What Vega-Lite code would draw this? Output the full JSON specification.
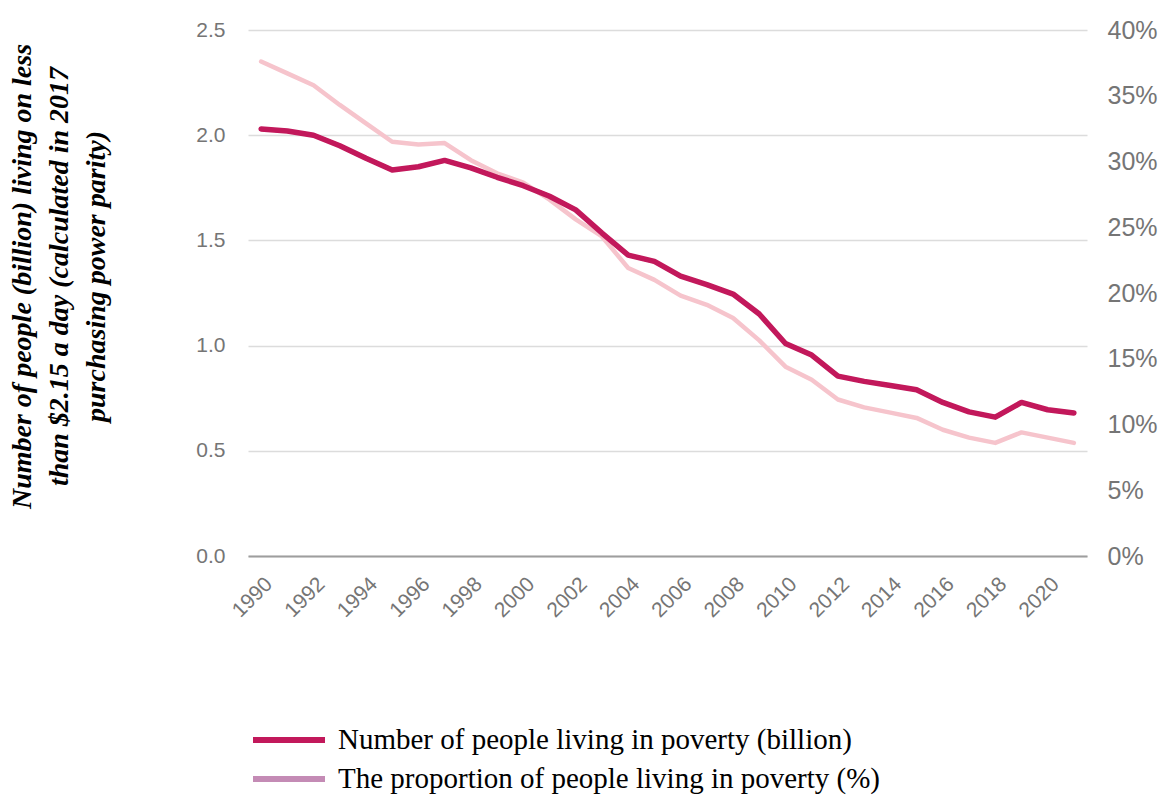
{
  "$schema": "https://vega.github.io/schema/vega-lite/v6.json",
  "width": 839,
  "height": 526,
  "autosize": "none",
  "padding": {"left": 248, "top": 30, "right": 76, "bottom": 240},
  "background": "white",
  "config": {
    "view": {"stroke": null},
    "axis": {
      "labelFont": "Liberation Sans",
      "labelColor": "#757575",
      "ticks": false,
      "domain": false,
      "grid": false
    }
  },
  "data": {
    "values": [
      {"year": 1990, "number": 2.03, "proportion": 0.376},
      {"year": 1991, "number": 2.02, "proportion": 0.367},
      {"year": 1992, "number": 2.0, "proportion": 0.358},
      {"year": 1993, "number": 1.95, "proportion": 0.343},
      {"year": 1994, "number": 1.89, "proportion": 0.329},
      {"year": 1995, "number": 1.835, "proportion": 0.315},
      {"year": 1996, "number": 1.85, "proportion": 0.313},
      {"year": 1997, "number": 1.88, "proportion": 0.314},
      {"year": 1998, "number": 1.845, "proportion": 0.301},
      {"year": 1999, "number": 1.8, "proportion": 0.291},
      {"year": 2000, "number": 1.76, "proportion": 0.284},
      {"year": 2001, "number": 1.71, "proportion": 0.271},
      {"year": 2002, "number": 1.645, "proportion": 0.256},
      {"year": 2003, "number": 1.535, "proportion": 0.243},
      {"year": 2004, "number": 1.43, "proportion": 0.219},
      {"year": 2005, "number": 1.4, "proportion": 0.21},
      {"year": 2006, "number": 1.33, "proportion": 0.198},
      {"year": 2007, "number": 1.29, "proportion": 0.191},
      {"year": 2008, "number": 1.245, "proportion": 0.181},
      {"year": 2009, "number": 1.15, "proportion": 0.164},
      {"year": 2010, "number": 1.01, "proportion": 0.144},
      {"year": 2011, "number": 0.955, "proportion": 0.134},
      {"year": 2012, "number": 0.855, "proportion": 0.119},
      {"year": 2013, "number": 0.83, "proportion": 0.113},
      {"year": 2014, "number": 0.81, "proportion": 0.109},
      {"year": 2015, "number": 0.79, "proportion": 0.105},
      {"year": 2016, "number": 0.73, "proportion": 0.096},
      {"year": 2017, "number": 0.685, "proportion": 0.09},
      {"year": 2018, "number": 0.66, "proportion": 0.086},
      {"year": 2019, "number": 0.73, "proportion": 0.094},
      {"year": 2020, "number": 0.695, "proportion": 0.09},
      {"year": 2021, "number": 0.68, "proportion": 0.086}
    ]
  },
  "encoding": {
    "x": {
      "field": "year",
      "type": "quantitative",
      "scale": {"domain": [1989.5, 2021.5], "nice": false, "zero": false},
      "axis": {
        "title": null,
        "values": [1990, 1992, 1994, 1996, 1998, 2000, 2002, 2004, 2006, 2008, 2010, 2012, 2014, 2016, 2018, 2020],
        "format": "d",
        "labelAngle": -45,
        "labelFontSize": 21,
        "labelPadding": 17,
        "domain": true,
        "domainColor": "#9e9e9e",
        "domainWidth": 2
      }
    }
  },
  "layer": [
    {
      "mark": {"type": "line", "strokeWidth": 4, "strokeCap": "round", "strokeJoin": "round"},
      "encoding": {
        "y": {"field": "number", "type": "quantitative", "scale": {"domain": [0, 2.5], "nice": false}, "axis": null},
        "stroke": {
          "datum": "Number of people living in poverty (billion)",
          "type": "nominal",
          "scale": {
            "domain": ["Number of people living in poverty (billion)", "The proportion of people living in poverty (%)"],
            "range": ["#C2185B", "#C48BB5"]
          },
          "legend": {
            "title": null,
            "orient": "none",
            "legendX": 26,
            "legendY": 695,
            "direction": "vertical",
            "symbolType": "M-3,0H3",
            "symbolSize": 576,
            "symbolStrokeWidth": 6,
            "labelFont": "Liberation Serif",
            "labelFontSize": 29,
            "labelColor": "#000000",
            "labelLimit": 0,
            "labelOffset": 34,
            "rowPadding": 9
          }
        }
      }
    },
    {
      "mark": {"type": "line", "strokeWidth": 4.5, "strokeCap": "round", "strokeJoin": "round"},
      "encoding": {
        "y": {
          "field": "proportion",
          "type": "quantitative",
          "scale": {"domain": [0, 0.4], "nice": false},
          "axis": {
            "orient": "right",
            "title": null,
            "values": [0, 0.05, 0.1, 0.15, 0.2, 0.25, 0.3, 0.35, 0.4],
            "format": ".0%",
            "labelFontSize": 25,
            "labelPadding": 20,
            "grid": false
          }
        },
        "color": {"datum": "The proportion of people living in poverty (%)"}
      }
    },
    {
      "mark": {"type": "line", "strokeWidth": 5.5, "strokeCap": "round", "strokeJoin": "round"},
      "encoding": {
        "y": {
          "field": "number",
          "type": "quantitative",
          "scale": {"domain": [0, 2.5], "nice": false},
          "axis": {
            "orient": "left",
            "values": [0, 0.5, 1, 1.5, 2, 2.5],
            "format": ".1f",
            "labelFontSize": 21,
            "labelPadding": 23,
            "grid": true,
            "gridColor": "#dcdcdc",
            "gridWidth": 1.5,
            "title": ["Number of people (billion) living on less", "than $2.15 a day (calculated in 2017", "purchasing power parity)"],
            "titleFont": "Liberation Serif",
            "titleFontSize": 28,
            "titleFontStyle": "italic",
            "titleFontWeight": "bold",
            "titleColor": "#000000",
            "titleLineHeight": 37,
            "titleX": -226,
            "titleY": 246,
            "titleAlign": "center",
            "titleBaseline": "middle",
            "titleAngle": -90
          }
        },
        "color": {
          "datum": "Number of people living in poverty (billion)",
          "type": "nominal",
          "scale": {
            "domain": ["Number of people living in poverty (billion)", "The proportion of people living in poverty (%)"],
            "range": ["#C2185B", "#F6C4CC"]
          },
          "legend": null
        }
      }
    }
  ],
  "resolve": {"scale": {"y": "independent"}}
}
